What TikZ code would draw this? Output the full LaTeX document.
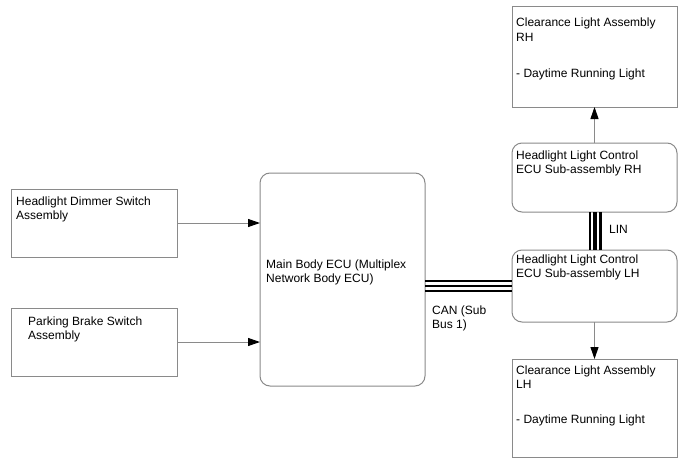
\documentclass[tikz,border=0pt]{standalone}
\usepackage{fontspec}
\setmainfont{Liberation Sans}
\usetikzlibrary{arrows.meta,calc}
\definecolor{boxgray}{HTML}{8A8A8A}
\begin{document}
\begin{tikzpicture}[x=1pt,y=-1pt,
  box/.style={draw=boxgray,line width=1pt,anchor=north west,inner sep=0pt,outer sep=0pt},
  rbox/.style={box,rounded corners=10pt},
  txt/.style={anchor=base west,inner sep=0pt,font=\fontsize{12}{14}\selectfont},
  arr/.style={draw=boxgray,line width=1pt,-{Triangle[length=12pt,width=8pt,fill=black,color=black]}},
  bus/.style={line width=2pt,black}]
\useasboundingbox[fill=white] (0,0) rectangle (688,463);
% boxes
\node[box,minimum width=166pt,minimum height=68pt] (dim) at (11,189) {};
\node[box,minimum width=166pt,minimum height=68pt] (park) at (11,308) {};
\node[rbox,minimum width=165pt,minimum height=213pt] (main) at (260,173) {};
\node[box,minimum width=165pt,minimum height=101pt] (clrh) at (512,6) {};
\node[rbox,minimum width=165pt,minimum height=69pt] (rhecu) at (512,143) {};
\node[rbox,minimum width=165pt,minimum height=72pt] (lhecu) at (512,250) {};
\node[box,minimum width=165pt,minimum height=98pt] (cllh) at (512,359) {};
% texts
\node[txt] (t1a) at (16,205) {Headlight Dimmer Switch};
\node[txt] (t1b) at (16,219) {Assembly};
\node[txt] (t2a) at (28,325) {Parking Brake Switch};
\node[txt] (t2b) at (28,339) {Assembly};
\node[txt] (t3a) at (266,268) {Main Body ECU (Multiplex};
\node[txt] (t3b) at (266,282) {Network Body ECU)};
\node[txt] (t4a) at (516,27) {Clearance Light Assembly};
\node[txt] (t4b) at (516,41) {RH};
\node[txt] (t4c) at (516,77) {- Daytime Running Light};
\node[txt] (t5a) at (516,159) {Headlight Light Control};
\node[txt] (t5b) at (516,173) {ECU Sub-assembly RH};
\node[txt] (t6a) at (516,263) {Headlight Light Control};
\node[txt] (t6b) at (516,277) {ECU Sub-assembly LH};
\node[txt] (t7a) at (516,374) {Clearance Light Assembly};
\node[txt] (t7b) at (516,388) {LH};
\node[txt] (t7c) at (516,423) {- Daytime Running Light};
\node[txt] (can1) at (432,314) {CAN (Sub};
\node[txt] (can2) at (432,328) {Bus 1)};
\node[txt] (lin) at (609,233) {LIN};
% arrows
\draw[arr] (dim.east) -- (dim.east -| main.west);
\draw[arr] (park.east) -- (park.east -| main.west);
\draw[arr] (rhecu.north) -- (clrh.south);
\draw[arr] (lhecu.south) -- (cllh.north);
% CAN bus
\coordinate (c1) at (0,281);
\coordinate (c2) at (0,285.5);
\coordinate (c3) at (0,291);
\draw[bus] (main.east |- c1) -- (lhecu.west |- c1);
\draw[bus] (main.east |- c2) -- (lhecu.west |- c2);
\draw[bus] (main.east |- c3) -- (lhecu.west |- c3);
% LIN bus
\coordinate (l1) at (589.5,0);
\coordinate (l2) at (595,0);
\coordinate (l3) at (600.5,0);
\draw[line width=2pt] (rhecu.south -| l1) -- (lhecu.north -| l1);
\draw[line width=4pt] (rhecu.south -| l2) -- (lhecu.north -| l2);
\draw[line width=2.5pt] (rhecu.south -| l3) -- (lhecu.north -| l3);
\end{tikzpicture}
\end{document}
